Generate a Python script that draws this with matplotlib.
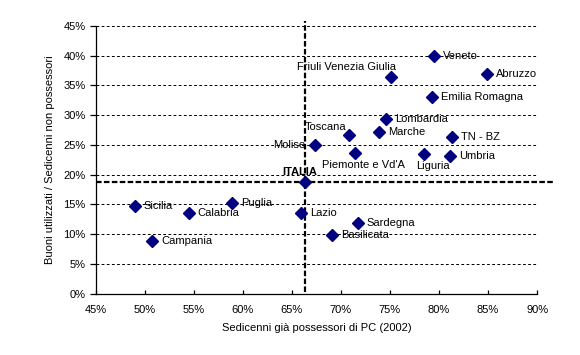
import matplotlib
matplotlib.use('Agg')
import matplotlib.pyplot as plt
from matplotlib.ticker import MultipleLocator, FuncFormatter

plt.rcParams['font.family'] = ['Liberation Sans', 'DejaVu Sans']
plt.rcParams['font.size'] = 8
plt.rcParams['lines.scale_dashes'] = False

# dati: % sedicenni gia' possessori di PC (2002) e buoni utilizzati / non possessori
regioni = ['Veneto', 'Abruzzo', 'Friuli Venezia Giulia', 'Emilia Romagna', 'Lombardia',
           'Marche', 'Toscana', 'TN - BZ', 'Molise', "Piemonte e Vd'A", 'Liguria', 'Umbria',
           'Sicilia', 'Calabria', 'Puglia', 'Campania', 'Lazio', 'Sardegna', 'Basilicata']
possessori = [79.5, 84.9, 75.1, 79.3, 74.6, 73.9, 70.8, 81.3, 67.4, 71.4, 78.5, 81.1,
              49.0, 54.5, 58.9, 50.8, 65.9, 71.7, 69.1]
buoni = [40.0, 37.0, 36.4, 33.1, 29.4, 27.2, 26.6, 26.3, 24.9, 23.6, 23.4, 23.1,
         14.8, 13.6, 15.3, 8.8, 13.6, 11.9, 9.9]
italia_x = 66.3
italia_y = 18.8

# posizione etichette (pixel) diverse da quella standard a destra
offsets = {
    'Friuli Venezia Giulia': (5, 10, 'right'),
    'Toscana': (-2, 8, 'right'),
    'Molise': (-10, 0, 'right'),
    "Piemonte e Vd'A": (9, -12, 'center'),
    'Liguria': (9, -12, 'center'),
}

fig = plt.figure(figsize=(5.8, 3.55), dpi=100)
ax = fig.add_axes([0.1647, 0.1732, 0.7614, 0.7536])

ax.set_xlim(45, 90)
ax.set_ylim(0, 45)
ax.xaxis.set_major_locator(MultipleLocator(5))
ax.yaxis.set_major_locator(MultipleLocator(5))
pct = FuncFormatter(lambda v, p: '%d%%' % round(v))
ax.xaxis.set_major_formatter(pct)
ax.yaxis.set_major_formatter(pct)

for v in range(5, 50, 5):
    ax.axhline(v, color='black', lw=0.72, ls=(0, (2.0, 1.7)), zorder=1)

for s in ['top', 'right']:
    ax.spines[s].set_visible(False)
for s in ['left', 'bottom']:
    ax.spines[s].set_linewidth(0.9)

ax.tick_params(axis='x', direction='in', length=3, width=0.9, pad=8)
ax.tick_params(axis='y', direction='out', length=4, width=0.9, pad=3)

# linee media Italia
ax.plot([italia_x, italia_x], [0.2, 45.8], color='black', lw=1.6,
        ls=(0, (4.0, 1.7)), clip_on=False, zorder=2)
ax.plot([45, 91.6], [italia_y, italia_y], color='black', lw=1.6,
        ls=(0, (4.0, 1.7)), clip_on=False, zorder=2)

ax.plot(possessori, buoni, 'D', color='#000080', ms=5.8, mec='#000080', zorder=3,
        clip_on=False)
ax.plot([italia_x], [italia_y], 'D', color='#000080', ms=5.8, zorder=3)

for nome, x, y in zip(regioni, possessori, buoni):
    dx, dy, ha = offsets.get(nome, (9, 0, 'left'))
    ax.annotate(nome, (x, y), xytext=(dx, dy), textcoords='offset pixels',
                ha=ha, va='center', fontsize=8)

ax.annotate('ITALIA', (italia_x, italia_y), xytext=(-5, 10), textcoords='offset pixels',
            ha='center', va='center', fontsize=8, fontweight='bold')

ax.set_xlabel('Sedicenni già possessori di PC (2002)', labelpad=6)
ax.set_ylabel('Buoni utilizzati / Sedicenni non possessori', labelpad=6)

fig.savefig('out.png', dpi=100)
